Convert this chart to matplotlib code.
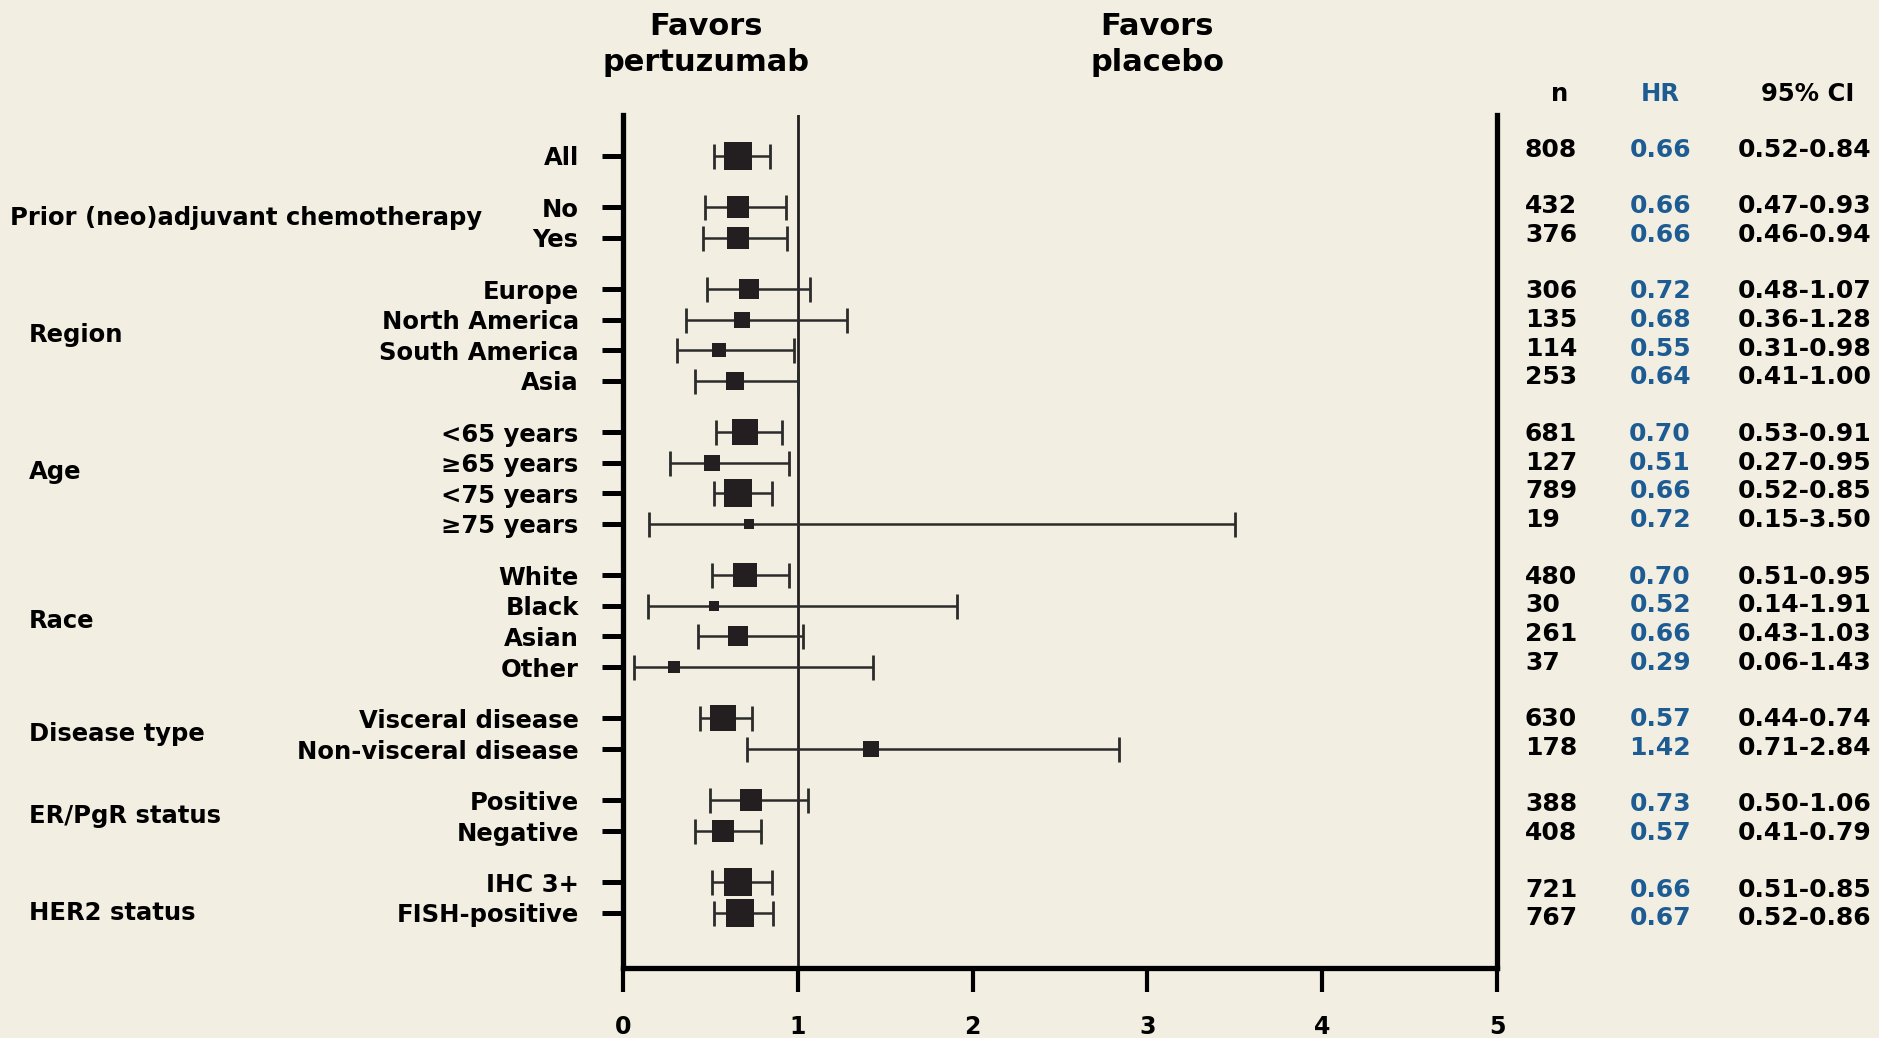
import numpy as np
import matplotlib
matplotlib.use("Agg")
import matplotlib.pyplot as plt
from matplotlib import transforms

plt.rcParams["font.family"] = ["DejaVu Sans"]
plt.rcParams["font.weight"] = "bold"

# subgroup rows, top to bottom
groups = ["", "Prior (neo)adjuvant chemotherapy", "Region", "Age", "Race",
          "Disease type", "ER/PgR status", "HER2 status"]
row_group = [0, 1, 1, 2, 2, 2, 2, 3, 3, 3, 3, 4, 4, 4, 4, 5, 5, 6, 6, 7, 7]
row_labels = ["All", "No", "Yes", "Europe", "North America", "South America", "Asia",
              "<65 years", "\u226565 years", "<75 years", "\u226575 years",
              "White", "Black", "Asian", "Other",
              "Visceral disease", "Non-visceral disease",
              "Positive", "Negative", "IHC 3+", "FISH-positive"]
n_pts = [808, 432, 376, 306, 135, 114, 253, 681, 127, 789, 19,
         480, 30, 261, 37, 630, 178, 388, 408, 721, 767]
hr = [0.66, 0.66, 0.66, 0.72, 0.68, 0.55, 0.64, 0.70, 0.51, 0.66, 0.72,
      0.70, 0.52, 0.66, 0.29, 0.57, 1.42, 0.73, 0.57, 0.66, 0.67]
ci_lo = [0.52, 0.47, 0.46, 0.48, 0.36, 0.31, 0.41, 0.53, 0.27, 0.52, 0.15,
         0.51, 0.14, 0.43, 0.06, 0.44, 0.71, 0.50, 0.41, 0.51, 0.52]
ci_hi = [0.84, 0.93, 0.94, 1.07, 1.28, 0.98, 1.00, 0.91, 0.95, 0.85, 3.50,
         0.95, 1.91, 1.03, 1.43, 0.74, 2.84, 1.06, 0.79, 0.85, 0.86]
x_ticks = [0, 1, 2, 3, 4, 5]

BG = "#f2eee1"
INK = "#231f20"
BLUE = "#1d5b93"

hr = np.array(hr)
lo = np.array(ci_lo)
hi = np.array(ci_hi)
n_arr = np.array(n_pts)
grp = np.array(row_group)

# row positions: one unit per row plus a gap between subgroups
idx = np.arange(len(row_labels))
row_y = idx + 0.68 * grp
tab_y = -0.2 + 0.941 * idx + 0.902 * grp

fig = plt.figure(figsize=(18.79, 10.38), dpi=100, facecolor=BG)
ax = fig.add_axes([0.3316, 0.0674, 0.4651, 0.8218], facecolor=BG)

ax.axvline(1, color=INK, lw=2)
# CI whiskers with end caps, then a square per subgroup scaled by n
ax.errorbar(hr, row_y, xerr=[hr - lo, hi - hr], fmt="none", ecolor="#2b2b2b",
            elinewidth=1.8, capsize=9, capthick=2.0, zorder=2)
sizes = 0.72 * (6.5 + 0.78 * np.sqrt(n_arr))
for y, h, s in zip(row_y, hr, sizes):
    ax.plot(h, y, marker="s", color=INK, markersize=s, markeredgewidth=0,
            linestyle="none", zorder=3)

ax.set_xlim(0, 5)
ax.set_ylim(row_y[-1] + 1.8, -1.33)
ax.set_xticks(x_ticks)
ax.set_xticklabels([str(t) for t in x_ticks], fontsize=17, fontweight="bold")
ax.set_yticks(row_y)
ax.set_yticklabels(row_labels, fontsize=17.5, fontweight="bold")
ax.tick_params(axis="y", length=15, width=3.6, pad=17, color="black")
ax.tick_params(axis="x", length=17, width=3, pad=17, color="black")
for side in ["left", "right", "bottom"]:
    ax.spines[side].set_linewidth(3.8)
ax.spines["top"].set_visible(False)

# subgroup headings on the far left
trans = transforms.blended_transform_factory(fig.transFigure, ax.transData)
nudge = {1: -0.15, 3: -0.2, 7: 0.5}
for g in range(1, len(groups)):
    yg = row_y[grp == g].mean() + nudge.get(g, 0)
    xg = 0.0053 if g == 1 else 0.0154
    ax.text(xg, yg, groups[g], transform=trans, fontsize=17.5, fontweight="bold",
            va="center", ha="left", clip_on=False)

fig.text(0.3757, 0.957, "Favors\npertuzumab", ha="center", va="center",
         fontsize=22, fontweight="bold", linespacing=1.3)
fig.text(0.616, 0.957, "Favors\nplacebo", ha="center", va="center",
         fontsize=22, fontweight="bold", linespacing=1.3)

# table of n, HR and CI on the right
fig.text(0.830, 0.909, "n", ha="center", va="center", fontsize=17.5, fontweight="bold")
fig.text(0.8835, 0.909, "HR", ha="center", va="center", fontsize=17.5,
         fontweight="bold", color=BLUE)
fig.text(0.962, 0.909, "95% CI", ha="center", va="center", fontsize=17.5,
         fontweight="bold")
for y, n, h, l, u in zip(tab_y, n_pts, hr, lo, hi):
    ax.text(0.8116, y, f"{n}", transform=trans, ha="left", va="center",
            fontsize=18, fontweight="bold", clip_on=False)
    ax.text(0.8835, y, f"{h:.2f}", transform=trans, ha="center", va="center",
            fontsize=18, fontweight="bold", color=BLUE, clip_on=False)
    ax.text(0.9605, y, f"{l:.2f}-{u:.2f}", transform=trans, ha="center", va="center",
            fontsize=18, fontweight="bold", clip_on=False)

fig.savefig("out.png", dpi=100, facecolor=BG)
